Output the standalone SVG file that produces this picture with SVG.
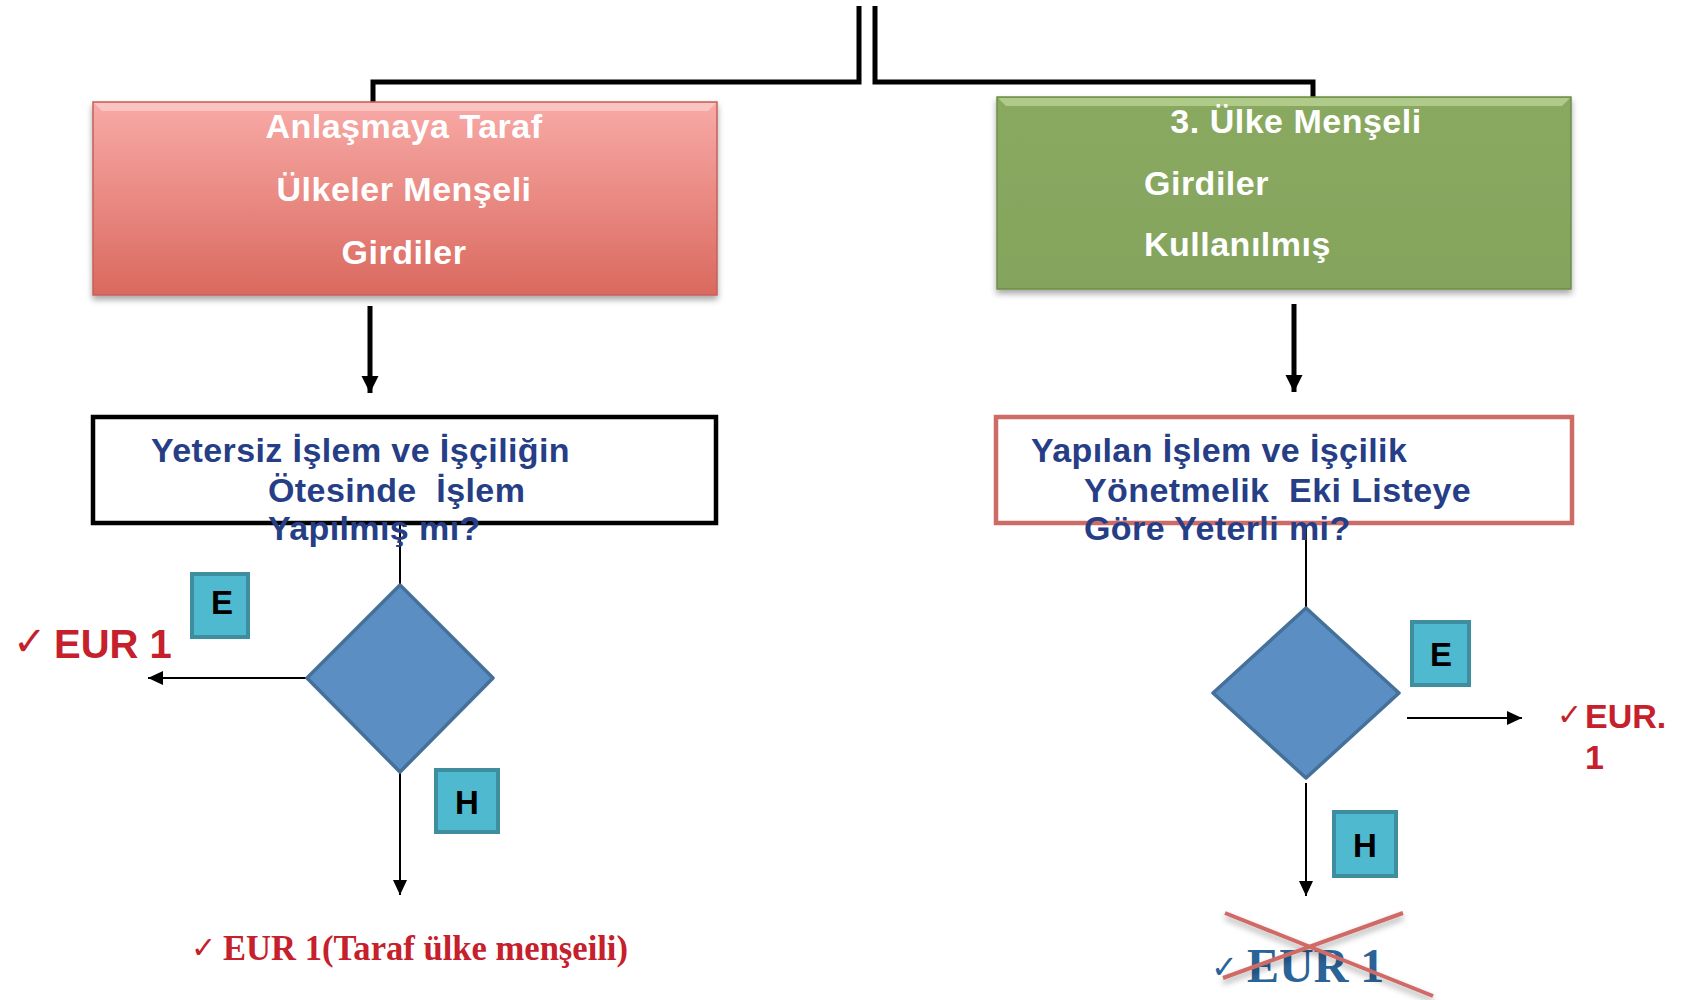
<svg xmlns="http://www.w3.org/2000/svg" width="1684" height="1000" viewBox="0 0 1684 1000">
<defs>
<style>
.hdr{font-family:"Liberation Sans",Arial,sans-serif;font-weight:bold;font-size:34px;fill:#ffffff;letter-spacing:0.5px}
.q{font-family:"Liberation Sans",Arial,sans-serif;font-weight:bold;font-size:34px;fill:#263e86;letter-spacing:0.4px}
.lbl{font-family:"Liberation Sans",Arial,sans-serif;font-weight:bold;font-size:33px;fill:#000000;text-anchor:middle}
.red{font-family:"Liberation Sans",Arial,sans-serif;font-weight:bold;fill:#c5202b}
.chk{font-family:"DejaVu Sans",sans-serif;font-weight:normal}
.tag{fill:#4fb9cf;stroke:#3e8e9f;stroke-width:4}
.dia{fill:#5b8fc3;stroke:#44709a;stroke-width:3.5;stroke-linejoin:round}
.thin{fill:none;stroke:#000;stroke-width:2}
.thick{fill:none;stroke:#000;stroke-width:5}
</style>
<linearGradient id="gRed" x1="0" y1="0" x2="0" y2="1">
<stop offset="0" stop-color="#f8aaa7"/>
<stop offset="1" stop-color="#da695e"/>
</linearGradient>
<linearGradient id="gGreen" x1="0" y1="0" x2="0" y2="1">
<stop offset="0" stop-color="#8aa960"/>
<stop offset="1" stop-color="#84a35c"/>
</linearGradient>
<filter id="sh" x="-5%" y="-5%" width="110%" height="120%">
<feDropShadow dx="0" dy="4" stdDeviation="3" flood-color="#000" flood-opacity="0.35"/>
</filter>
<marker id="aThin" markerUnits="userSpaceOnUse" markerWidth="16" markerHeight="14" refX="15" refY="7" orient="auto">
<path d="M0,0 L15,7 L0,14 z" fill="#000"/>
</marker>
<marker id="aThick" markerUnits="userSpaceOnUse" markerWidth="18" markerHeight="18" refX="17" refY="8.5" orient="auto">
<path d="M0,0 L17,8.5 L0,17 z" fill="#000"/>
</marker>
</defs>
<rect width="1684" height="1000" fill="#ffffff"/>

<g id="connectors">
<path class="thick" d="M859 6 V82 H373 V102" stroke-linejoin="miter"/>
<path class="thick" d="M875 6 V82 H1313 V97" stroke-linejoin="miter"/>
<line class="thick" x1="370" y1="306" x2="370" y2="393" marker-end="url(#aThick)"/>
<line class="thick" x1="1294" y1="304" x2="1294" y2="392" marker-end="url(#aThick)"/>
<line class="thin" x1="400" y1="524" x2="400" y2="586"/>
<line class="thin" x1="307" y1="678" x2="148" y2="678" marker-end="url(#aThin)"/>
<line class="thin" x1="400" y1="772" x2="400" y2="895" marker-end="url(#aThin)"/>
<line class="thin" x1="1306" y1="524" x2="1306" y2="609"/>
<line class="thin" x1="1407" y1="718" x2="1522" y2="718" marker-end="url(#aThin)"/>
<line class="thin" x1="1306" y1="783" x2="1306" y2="896" marker-end="url(#aThin)"/>
</g>

<g id="node-taraf">
<rect x="93" y="102" width="624" height="193" fill="url(#gRed)" stroke="#c6605a" stroke-width="1.5" filter="url(#sh)"/>
<path d="M94 103 H716 L708 111 H102 Z" fill="#fbd0cd" opacity="0.7"/>
<text class="hdr" x="404" y="138" text-anchor="middle">Anlaşmaya Taraf</text>
<text class="hdr" x="404" y="201" text-anchor="middle">Ülkeler Menşeli</text>
<text class="hdr" x="404" y="264" text-anchor="middle">Girdiler</text>
</g>

<g id="node-ucuncu">
<rect x="997" y="97" width="574" height="192" fill="url(#gGreen)" stroke="#6e8e48" stroke-width="1.5" filter="url(#sh)"/>
<path d="M998 98 H1570 L1562 106 H1006 Z" fill="#b9d393" opacity="0.8"/>
<text class="hdr" x="1296" y="133" text-anchor="middle">3. Ülke Menşeli</text>
<text class="hdr" x="1144" y="195">Girdiler</text>
<text class="hdr" x="1144" y="256">Kullanılmış</text>
</g>

<g id="node-q1">
<rect x="93" y="417" width="623" height="106" fill="#ffffff" stroke="#000" stroke-width="4.5"/>
<text class="q" x="151" y="462">Yetersiz İşlem ve İşçiliğin</text>
<text class="q" x="268" y="502" xml:space="preserve">Ötesinde  İşlem</text>
<text class="q" x="268" y="540">Yapılmış mı?</text>
</g>

<g id="node-q2">
<rect x="996" y="417" width="576" height="106" fill="#ffffff" stroke="#cd6b66" stroke-width="4.5"/>
<text class="q" x="1031" y="462">Yapılan İşlem ve İşçilik</text>
<text class="q" x="1084" y="502" xml:space="preserve">Yönetmelik  Eki Listeye</text>
<text class="q" x="1084" y="540">Göre Yeterli mi?</text>
</g>

<g id="node-d1">
<polygon class="dia" points="400,585 493,678 400,772 307,678"/>
</g>
<g id="node-e1">
<rect class="tag" x="192" y="574" width="56" height="63"/>
<text class="lbl" x="222" y="614">E</text>
</g>
<g id="node-h1">
<rect class="tag" x="436" y="770" width="62" height="62"/>
<text class="lbl" x="467" y="814">H</text>
</g>
<g id="node-eur1-left">
<text class="chk" x="13" y="655" font-size="40" fill="#c5202b">✓</text>
<text class="red" x="54" y="658" font-size="40">EUR 1</text>
</g>
<g id="node-eur1-bottom">
<text class="chk" x="191" y="958" font-size="30" fill="#c5202b">✓</text>
<text x="223" y="960" font-family="'Liberation Serif','Times New Roman',serif" font-weight="bold" font-size="36" fill="#c5202b" textLength="405" lengthAdjust="spacingAndGlyphs">EUR 1(Taraf ülke menşeili)</text>
</g>

<g id="node-d2">
<polygon class="dia" points="1306,608 1399,693 1306,778 1213,693"/>
</g>
<g id="node-e2">
<rect class="tag" x="1412" y="622" width="57" height="63"/>
<text class="lbl" x="1441" y="666">E</text>
</g>
<g id="node-h2">
<rect class="tag" x="1334" y="812" width="62" height="64"/>
<text class="lbl" x="1365" y="857">H</text>
</g>
<g id="node-eur1-right">
<text class="chk" x="1557" y="725" font-size="30" fill="#c5202b">✓</text>
<text class="red" x="1585" y="728" font-size="34">EUR.</text>
<text class="red" x="1585" y="769" font-size="34">1</text>
</g>
<g id="node-eur1-crossed">
<text class="chk" x="1211" y="978" font-size="32" fill="#2a6397">✓</text>
<text x="1247" y="982" font-family="'Liberation Serif','Times New Roman',serif" font-weight="bold" font-size="48" fill="#2a6397">EUR 1</text>
<g stroke="#d06b66" stroke-width="4" stroke-linecap="butt" filter="url(#sh)">
<line x1="1225" y1="913" x2="1433" y2="996"/>
<line x1="1403" y1="913" x2="1223" y2="978"/>
</g>
</g>
</svg>
